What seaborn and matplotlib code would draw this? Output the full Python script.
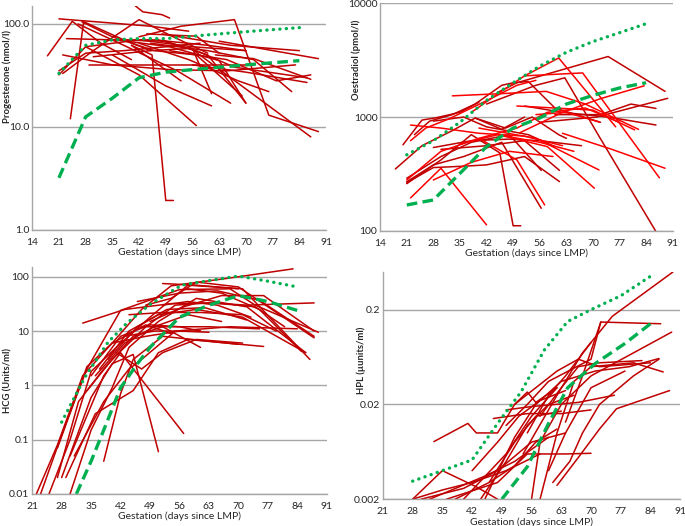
import numpy as np
import pandas as pd
import seaborn as sns
import matplotlib.pyplot as plt
from matplotlib.ticker import NullLocator

# ---- Progesterone (nmol/l) ----
prog_days = [
    [21, 32, 45, 55], [24, 27.5, 38, 45], [18, 24.5, 32, 40], [41, 43, 48, 50],
    [40, 45.4, 49, 51], [42, 53, 67, 76, 89], [55, 87], [63, 89],
    [21, 28, 42, 56, 70], [22, 35, 50, 65, 83], [22, 30, 42, 50, 60], [29, 42, 55, 70],
    [23, 35, 49, 60, 70], [28, 42, 57], [35, 49, 61], [40, 53],
    [30, 45, 56, 61], [36, 50, 63, 70], [42, 55, 68, 76], [50, 65, 78, 87],
    [45, 60, 72, 82], [48, 66, 84], [62, 72, 87], [56, 70, 86],
    [44, 57, 63], [26, 38, 52, 66], [33, 46, 60, 70], [21, 28, 38, 49, 58],
    [27, 35, 46, 57, 69], [47, 57, 67, 86],
]
prog_vals = [
    [112, 104, 95, 85], [12, 105, 70, 55], [49, 106, 65, 45], [150, 131, 123, 114],
    [62, 50, 1.93, 1.93], [75, 95, 110, 13, 9], [60, 8], [68, 46],
    [32, 60, 70, 60, 55], [50, 40, 36, 35, 40], [33, 55, 110, 78, 52], [40, 40, 40, 40],
    [72, 70, 68, 50, 17], [60, 32, 10.3], [50, 25, 16], [62, 28],
    [48, 55, 58, 21], [70, 60, 44, 17], [65, 45, 28, 22], [55, 45, 28, 32],
    [65, 55, 45, 22], [80, 62, 55], [50, 46, 29], [40, 34, 27],
    [80, 76, 52], [100, 62, 35, 17], [70, 70, 62, 55], [35, 52, 55, 60, 65],
    [105, 75, 55, 50, 20], [70, 55, 38, 30],
]
prog_hi_days = [21, 28, 35, 42, 49, 56, 63, 70, 77, 84]
prog_hi_vals = [33, 62, 70, 72, 72, 76, 80, 84, 88, 92]
prog_lo_days = [21, 28, 35, 42, 49, 56, 63, 70, 77, 84]
prog_lo_vals = [3.2, 12.5, 19, 30, 34, 36, 38, 40, 42, 44]

# ---- Oestradiol (pmol/l) ----
oest_days = [
    [18, 25, 33, 39, 46, 52], [20, 25, 29, 35, 40], [22, 26, 32, 38, 44, 50, 55],
    [23, 27, 33, 39, 46, 49, 53, 60, 72], [33, 45, 57.7, 68, 82], [38, 45, 52, 61, 76],
    [45, 50, 74, 89], [52, 67.3, 87.5], [42, 55, 62.6, 71.7, 86.5], [62, 75, 89],
    [45, 58, 70.4], [40, 55, 71.6], [52, 62, 74, 86.6], [60, 72, 80, 86.6],
    [56, 71, 80, 89.7], [50, 60, 70, 81], [55, 63, 71.7], [21, 30, 38, 45.5, 49, 51],
    [22, 30, 42], [21, 28, 36, 46, 56.4], [21, 30, 40, 50, 57.3],
    [21, 28, 36, 42, 52, 61.2], [21, 30, 38, 48, 56.4], [30, 42, 52, 61.2],
    [28, 38, 48, 59.5], [22, 30, 40, 52, 62], [28, 38, 48, 56, 67],
    [35, 45, 56, 65], [39, 47, 54, 61, 63], [40, 50, 58, 68, 77],
    [28, 36, 42, 53, 60], [50.7, 62, 72, 83.5],
]
oest_vals = [
    [350, 560, 760, 980, 780, 1000], [570, 940, 990, 1100, 1350], [620, 800, 960, 1200, 1500, 1900, 2100],
    [700, 920, 1050, 1300, 1900, 2000, 2050, 1200, 900], [1535, 1600, 1680, 1300, 780], [1100, 1600, 2300, 3300, 820],
    [1650, 2000, 3400, 1680], [2300, 2440, 293], [1300, 1900, 2210, 670, 100], [720, 520, 355],
    [700, 550, 237], [800, 650, 343], [1250, 1100, 1000, 851], [1050, 1050, 1300, 1190],
    [900, 1000, 1200, 1460], [1250, 1200, 1150, 771], [1050, 1100, 902], [260, 420, 700, 484, 111, 111],
    [195, 355, 113], [270, 380, 450, 600, 158], [280, 500, 650, 420, 169],
    [265, 360, 370, 380, 450, 271], [290, 450, 600, 700, 340], [520, 560, 620, 340],
    [280, 400, 500, 450], [850, 800, 720, 680, 560], [540, 620, 640, 620, 560],
    [580, 700, 600, 500], [980, 800, 1000, 700, 650], [650, 800, 1100, 1200, 900],
    [920, 1000, 820, 700, 550], [726, 1100, 1450, 1880],
]
oest_shade = ["dark", "dark", "bright", "dark", "bright", "bright", "dark", "bright", "dark", "bright",
              "bright", "bright", "dark", "dark", "dark", "bright", "bright", "dark", "bright", "dark",
              "bright", "dark", "dark", "dark", "bright", "bright", "dark", "bright", "dark", "bright",
              "dark", "bright"]
oest_hi_days = [21, 28, 35, 42, 49, 56, 63, 70, 77, 84]
oest_hi_vals = [466, 620, 900, 1400, 2000, 2800, 3700, 4600, 5500, 6600]
oest_lo_days = [21, 28, 35, 42, 49, 56, 63, 70, 77, 84]
oest_lo_vals = [169, 187, 320, 550, 800, 980, 1300, 1550, 1800, 2000]

# ---- HCG (Units/ml) ----
hcg_days = [
    [22, 27, 33, 40, 47, 54, 68, 83], [23, 29, 34, 42, 56, 68, 74, 89], [25, 30, 35, 41, 49, 58, 71, 87],
    [30, 35, 40, 44, 51, 60, 72, 86], [27, 32, 38, 45, 52, 61], [28, 35, 40, 45, 51],
    [30, 38, 42, 57], [33, 43, 54, 64, 74, 81], [38, 42, 45, 52, 70],
    [29, 36, 45, 51, 58, 76], [31, 38, 44, 47, 55, 68, 84], [34, 40, 48, 55, 63, 72, 88],
    [35, 42, 49, 56, 61], [37, 44, 51, 60, 71, 86], [36, 43, 50, 58, 66],
    [39, 46, 53, 62, 72], [46, 56, 65, 75, 88], [48, 54, 60, 70, 88],
    [44, 52, 61, 71, 79], [52, 58, 65, 73], [47, 55, 63, 75], [40, 48, 56, 63],
    [52, 60, 70], [41, 47, 52, 60, 71], [43, 50, 61], [58, 66, 75, 85],
    [27, 34, 40, 48, 54], [49, 57, 66, 76, 88],
]
hcg_vals = [
    [0.01, 0.08, 1.5, 6, 25, 68, 95, 140], [0.01, 0.2, 2, 24, 58, 60, 30, 9.5], [0.01, 0.1, 1.8, 5, 18, 70, 60, 3],
    [0.01, 0.15, 0.9, 5, 15, 40, 28, 4], [0.02, 0.5, 2, 8, 12, 5], [0.02, 0.6, 2.5, 3.7, 0.06],
    [0.05, 1.5, 4, 0.13], [14, 25, 32, 33, 28, 12], [0.04, 0.7, 3, 8, 5.7],
    [0.02, 0.3, 0.8, 4, 7, 5.2], [0.05, 0.5, 2, 3, 10, 12, 11], [0.8, 3, 12, 30, 33, 30, 33],
    [1.5, 8, 13, 12, 10], [2, 10, 20, 25, 18, 4], [1.5, 6, 12, 20, 15],
    [3, 12, 25, 27, 16], [35, 50, 55, 37, 8], [30, 40, 80, 65, 7.5],
    [20, 22, 22, 20, 10], [30, 35, 30, 18], [12, 12, 12, 11], [6, 8, 10, 9.5],
    [75, 70, 60], [4, 2, 4, 7, 6], [8, 10, 10], [60, 50, 25, 4.2],
    [0.07, 2.2, 6, 13, 9], [15, 28, 45, 45, 10],
]
hcg_hi_days = [28, 33.5, 39, 43.5, 49, 56.5, 63, 70, 77, 84]
hcg_hi_vals = [0.21, 1.4, 6.2, 14, 31, 70, 85, 103, 83, 65]
hcg_lo_days = [31.5, 35, 38, 42, 46, 49, 56, 63, 70, 77, 84]
hcg_lo_vals = [0.01, 0.04, 0.15, 0.9, 2.5, 5, 18, 30, 45, 35, 24]

# ---- HPL (µunits/ml) ----
hpl_days = [
    [28, 35, 42, 50, 58], [28, 35, 43, 48], [33, 41, 43, 48, 52, 55, 57, 62],
    [30, 40, 48, 56, 64], [32, 45, 52, 60], [36, 48, 55, 64, 70], [40, 50, 56, 62],
    [42, 48, 53, 58, 64], [44, 50, 55, 60, 66], [45, 52, 57, 63, 71, 79, 86],
    [47, 55, 63, 70], [50, 56, 67, 75.5], [50, 55, 60, 70, 72.3, 86.4],
    [54, 62, 68, 75, 89.3], [56, 58, 63, 70, 80, 89], [58, 62, 66, 70, 80, 87],
    [61, 65, 68, 72, 80, 86], [62, 67, 72, 76, 88.5], [55, 60, 64, 70],
    [38, 46, 52, 57, 62], [52, 57, 62, 67, 72, 84], [58, 63, 67, 72, 82],
    [64, 68, 72.3], [46, 52, 57, 63], [60, 64, 70, 78],
]
hpl_vals = [
    [0.002, 0.0025, 0.003, 0.004, 0.006], [0.002, 0.004, 0.0027, 0.002], [0.0081, 0.0126, 0.01, 0.01, 0.02, 0.027, 0.021, 0.03],
    [0.002, 0.0026, 0.004, 0.008, 0.01], [0.002, 0.0035, 0.005, 0.009], [0.002, 0.003, 0.006, 0.006, 0.0061], [0.002, 0.006, 0.015, 0.03],
    [0.004, 0.008, 0.015, 0.022, 0.028], [0.002, 0.005, 0.012, 0.02, 0.025], [0.002, 0.009, 0.02, 0.035, 0.045, 0.05, 0.061],
    [0.0142, 0.016, 0.016, 0.0175], [0.0175, 0.019, 0.021, 0.025], [0.012, 0.02, 0.035, 0.06, 0.148, 0.142],
    [0.006, 0.025, 0.07, 0.17, 0.5], [0.002, 0.008, 0.02, 0.04, 0.07, 0.116], [0.002, 0.01, 0.035, 0.05, 0.055, 0.044],
    [0.003, 0.005, 0.01, 0.02, 0.04, 0.06], [0.0028, 0.0055, 0.011, 0.018, 0.028], [0.01, 0.025, 0.04, 0.09],
    [0.002, 0.003, 0.0045, 0.008, 0.011], [0.02, 0.03, 0.045, 0.06, 0.05, 0.055], [0.015, 0.03, 0.05, 0.055, 0.058],
    [0.013, 0.04, 0.148], [0.003, 0.008, 0.015, 0.017], [0.004, 0.01, 0.03, 0.045],
]
hpl_hi_days = [28, 35, 42, 48, 53.5, 59, 64.5, 70, 77, 84]
hpl_hi_vals = [0.0031, 0.004, 0.0052, 0.0126, 0.027, 0.075, 0.15, 0.2, 0.28, 0.45]
hpl_lo_days = [49, 55, 60, 64.5, 71, 78, 84]
hpl_lo_vals = [0.002, 0.0044, 0.0126, 0.03, 0.054, 0.088, 0.142]

DARK = "#c00000"
BRIGHT = "#ff0000"
GREEN = "#00b050"
GRID = "#a6a6a6"


def long_table(days, vals, shade=None):
    rows = []
    for i, (d, v) in enumerate(zip(days, vals)):
        s = shade[i] if shade else "dark"
        for x, y in zip(d, v):
            rows.append({"id": i, "day": x, "val": y, "shade": s})
    return pd.DataFrame(rows)


def draw_panel(ax, days, vals, hi, lo, ylim, yticks, ylabels, xticks, ylabel, label_xy, shade=None):
    df = long_table(days, vals, shade)
    sns.lineplot(data=df, x="day", y="val", hue="shade", units="id", estimator=None,
                 palette={"dark": DARK, "bright": BRIGHT}, sort=False, lw=1.1,
                 legend=False, ax=ax)
    sns.lineplot(x=hi[0], y=hi[1], color=GREEN, lw=2.4, ax=ax,
                 linestyle=(0, (0.05, 1.9)), dash_capstyle="round")
    sns.lineplot(x=lo[0], y=lo[1], color=GREEN, lw=2.4, ax=ax,
                 linestyle=(0, (3.2, 1.6)))
    ax.set_yscale("log")
    ax.set_ylim(*ylim)
    ax.set_xlim(xticks[0], xticks[-1])
    ax.set_yticks(yticks)
    ax.set_yticklabels(ylabels)
    ax.yaxis.set_minor_locator(NullLocator())
    ax.set_xticks(xticks)
    ax.set_xticklabels([str(t) for t in xticks])
    ax.grid(axis="y", color=GRID, lw=1.0)
    ax.grid(axis="x", visible=False)
    ax.set_axisbelow(True)
    for s in ["top", "right"]:
        ax.spines[s].set_visible(False)
    for s in ["left", "bottom"]:
        ax.spines[s].set_color(GRID)
        ax.spines[s].set_linewidth(1.0)
    ax.tick_params(axis="y", length=0, labelsize=7.5, pad=2)
    ax.tick_params(axis="x", length=3.5, color=GRID, direction="out", labelsize=7.5, pad=2)
    ax.set_xlabel("Gestation (days since LMP)", fontsize=7.5, labelpad=1)
    ax.set_ylabel(ylabel, fontsize=6.8, fontweight="bold")
    ax.yaxis.set_label_coords(*label_xy)


sns.set_theme(style="white")
plt.rcParams["font.family"] = ["Lato", "DejaVu Sans"]

fig = plt.figure(figsize=(6.85, 5.26), dpi=100)
ax1 = fig.add_axes([0.047, 0.563, 0.429, 0.426])
ax2 = fig.add_axes([0.555, 0.561, 0.427, 0.433])
ax3 = fig.add_axes([0.047, 0.061, 0.430, 0.431])
ax4 = fig.add_axes([0.559, 0.051, 0.434, 0.432])

x14 = [14, 21, 28, 35, 42, 49, 56, 63, 70, 77, 84, 91]
x21 = [21, 28, 35, 42, 49, 56, 63, 70, 77, 84, 91]

draw_panel(ax1, prog_days, prog_vals, (prog_hi_days, prog_hi_vals), (prog_lo_days, prog_lo_vals),
           (1, 150), [1, 10, 100], ["1.0", "10.0", "100.0"], x14, "Progesterone (nmol/l)",
           (-0.068, 0.685))
draw_panel(ax2, oest_days, oest_vals, (oest_hi_days, oest_hi_vals), (oest_lo_days, oest_lo_vals),
           (100, 10000), [100, 1000, 10000], ["100", "1000", "10000"], x14, "Oestradiol (pmol/l)",
           (-0.065, 0.75), shade=oest_shade)
draw_panel(ax3, hcg_days, hcg_vals, (hcg_hi_days, hcg_hi_vals), (hcg_lo_days, hcg_lo_vals),
           (0.01, 150), [0.01, 0.1, 1, 10, 100], ["0.01", "0.1", "1", "10", "100"], x21, "HCG (Units/ml)",
           (-0.068, 0.50))
draw_panel(ax4, hpl_days, hpl_vals, (hpl_hi_days, hpl_hi_vals), (hpl_lo_days, hpl_lo_vals),
           (0.002, 0.5), [0.002, 0.02, 0.2], ["0.002", "0.02", "0.2"], x21, "HPL (µunits/ml)",
           (-0.057, 0.61))

fig.savefig("out.png", dpi=100)
